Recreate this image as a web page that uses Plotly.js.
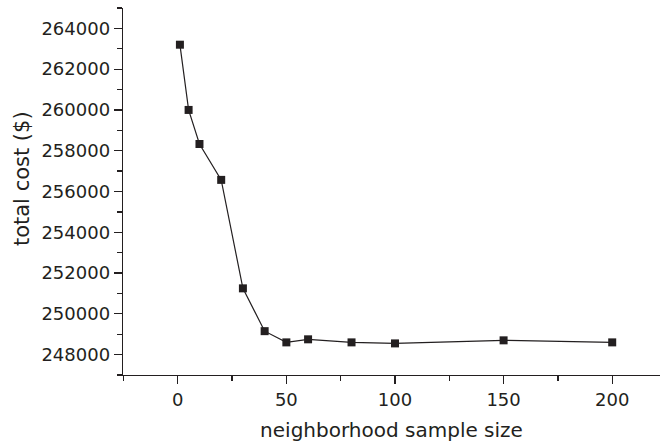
<!DOCTYPE html>
<html>
<head>
<meta charset="utf-8">
<script src="https://cdn.plot.ly/plotly-3.0.1.min.js"></script>
<style>html,body{margin:0;padding:0;background:#fff;}#chart{width:660px;height:446px;}</style>
</head>
<body>
<div id="chart"></div>
<script>
const sampleSize = [1, 5, 10, 20, 30, 40, 50, 60, 80, 100, 150, 200];
const totalCost = [263200, 260000, 258330, 256570, 251250, 249150, 248600, 248750, 248600, 248550, 248700, 248600];
const xTicks = [0, 50, 100, 150, 200];
const yTicks = [248000, 250000, 252000, 254000, 256000, 258000, 260000, 262000, 264000];
const xTitle = 'neighborhood sample size';
const yTitle = 'total cost ($)';

const ink = '#231f20';
const trace = {
  x: sampleSize,
  y: totalCost,
  type: 'scatter',
  mode: 'lines+markers',
  line: {color: ink, width: 1.2},
  marker: {symbol: 'square', size: 8, color: ink}
};

const layout = {
  width: 660, height: 446,
  margin: {l: 123, r: 0, t: 8, b: 71},
  paper_bgcolor: '#fff', plot_bgcolor: '#fff',
  showlegend: false,
  font: {family: 'DejaVu Sans', color: ink},
  xaxis: {
    range: [-25.2, 222],
    tickvals: xTicks,
    ticktext: xTicks.map(String),
    ticks: 'outside', ticklen: 8, tickwidth: 1.3, tickcolor: ink,
    minor: {dtick: 25, tick0: 0, ticks: 'outside', ticklen: 5, tickwidth: 1.3, tickcolor: ink},
    showline: true, linecolor: ink, linewidth: 1.3,
    showgrid: false, zeroline: false,
    tickfont: {family: 'DejaVu Sans', size: 18, color: ink},
    title: {text: xTitle, font: {family: 'DejaVu Sans', size: 20, color: ink}, standoff: 14}
  },
  yaxis: {
    range: [247000, 265000],
    tickvals: yTicks,
    ticktext: yTicks.map(String),
    ticks: 'outside', ticklen: 8, tickwidth: 1.3, tickcolor: ink,
    minor: {dtick: 1000, tick0: 247000, ticks: 'outside', ticklen: 5, tickwidth: 1.3, tickcolor: ink},
    showline: true, linecolor: ink, linewidth: 1.3,
    showgrid: false, zeroline: false,
    tickfont: {family: 'DejaVu Sans', size: 18, color: ink}
  },
  annotations: [{
    text: yTitle, textangle: -90,
    xref: 'paper', yref: 'paper',
    x: -0.188, y: 0.534, xanchor: 'center', yanchor: 'middle',
    showarrow: false,
    font: {family: 'DejaVu Sans', size: 21, color: ink}
  }]
};

Plotly.newPlot('chart', [trace], layout, {displayModeBar: false, staticPlot: true});
</script>
</body>
</html>
